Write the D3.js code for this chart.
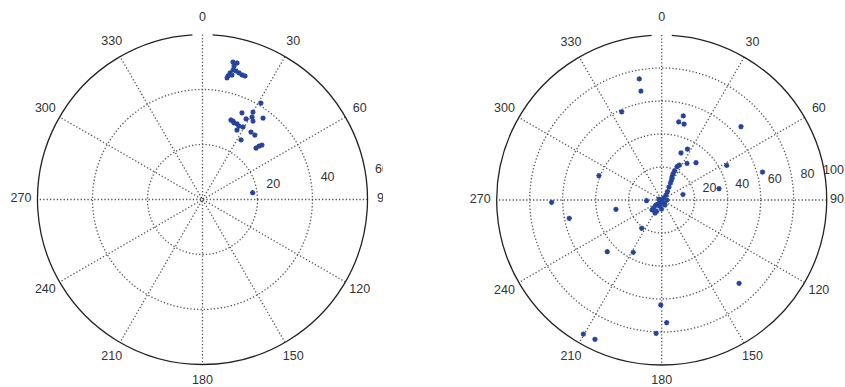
<!DOCTYPE html>
<html>
<head>
<meta charset="utf-8">
<title>Polar scatter</title>
<script src="https://cdn.jsdelivr.net/npm/d3@7"></script>
<style>
  body { margin: 0; background: #fff; }
  text { font-family: "Liberation Sans", Arial, sans-serif; font-size: 12.5px; fill: #333; }
  .grid { fill: none; stroke: #555; stroke-width: 1.3; stroke-dasharray: 1.3 2.1; }
  .rim { fill: none; stroke: #222; stroke-width: 1.3; }
  .pt { fill: none; stroke: #24439a; stroke-width: 1.4; }
</style>
</head>
<body>
<script>
// angle ticks (degrees clockwise from north)
var angleTicks = [0, 30, 60, 90, 120, 150, 180, 210, 240, 270, 300, 330];
var leftRings = [20, 40, 60];
var rightRings = [20, 40, 60, 80, 100];

// left panel: angle (deg) and radius
var leftTheta = [12.5, 14.2, 13.3, 13.3, 12.3, 11.7, 11.4, 14.6, 16.1, 17.6, 19.0, 13.3,
  31.2, 24.5, 30.0, 31.0, 36.6, 28.4, 21.2, 22.4, 24.6, 26.4, 29.2, 32.8, 26.4, 35.7,
  39.1, 32.9, 46.1, 46.6, 47.5, 19.7, 82.3];
var leftRadius = [51.2, 51.2, 49.9, 48.4, 47.1, 45.9, 45.1, 48.3, 47.9, 47.5, 47.5, 46.5,
  41.0, 34.6, 36.7, 35.0, 36.9, 33.3, 30.6, 30.1, 30.2, 29.8, 30.2, 33.9, 28.2, 30.2,
  30.2, 25.8, 27.0, 28.3, 29.3, 30.7, 18.4];

// right panel: angle (deg) and radius
var rightTheta = [349.5, 349.2, 335.6, 14.4, 12.3, 16.4, 47.2, 26.8, 22.3, 34.6, 42.6, 24.7,
  62.0, 74.5, 291.2, 78.8, 75.5, 268.8, 258.8, 258.5, 267.4, 215.2, 226.5, 208.5, 137.1,
  180.5, 177.7, 182.4, 210.3, 205.6, 26.7,
  23.5, 26.1, 27.4, 29.3, 34.3, 40.7, 42, 187.6, 222.4, 228.7, 225.7, 204.3, 181.3, 146.6,
  207.3, 224.1, 90, 195.8, 142.5, 290, 23.8, 24.1];
var rightRadius = [74.6, 67.2, 58.7, 52.6, 48.4, 48.0, 65.5, 34.6, 30.8, 27.0, 30.7, 22.2,
  44.6, 63.4, 40.8, 35.4, 13.3, 66.7, 57.1, 28.3, 9.2, 21.0, 45.5, 36.1, 68.9,
  63.6, 74.4, 80.9, 94.1, 93.6, 23.7,
  17.2, 13.5, 11.6, 9.0, 6.2, 4.0, 1.6, 0.9, 2.9, 4.6, 6.9, 7.6, 5.5, 3.6,
  8.9, 8.4, 3.2, 3.8, 2.3, 1.7, 19.2, 15.3];

var W = 845, H = 387;
var svg = d3.select('body').append('svg').attr('width', W).attr('height', H);

var asterisk = {
  draw: function(ctx, size) {
    var r = Math.sqrt(size) / 2, d = r * 0.7071;
    ctx.moveTo(-r, 0); ctx.lineTo(r, 0);
    ctx.moveTo(0, -r); ctx.lineTo(0, r);
    ctx.moveTo(-d, -d); ctx.lineTo(d, d);
    ctx.moveTo(-d, d); ctx.lineTo(d, -d);
  }
};

function polar(id, cx, cy, R, rings, theta, rho, clipW) {
  var rMax = rings[rings.length - 1];
  var rs = d3.scaleLinear().domain([0, rMax]).range([0, R]);
  var as = d3.scaleLinear().domain([0, 360]).range([0, 2 * Math.PI]);
  var px = function(t, r) { return cx + rs(r) * Math.sin(as(t)); };
  var py = function(t, r) { return cy - rs(r) * Math.cos(as(t)); };

  svg.append('clipPath').attr('id', id).append('rect')
    .attr('x', 0).attr('y', 0).attr('width', clipW).attr('height', H);
  var g = svg.append('g').attr('clip-path', 'url(#' + id + ')');

  // dotted rings (the last one is the solid rim)
  g.selectAll('circle.grid').data(rings.slice(0, -1)).enter().append('circle')
    .attr('class', 'grid').attr('cx', cx).attr('cy', cy).attr('r', function(d) { return rs(d); });

  // spokes through the centre
  g.selectAll('line.grid').data(angleTicks.slice(0, 6)).enter().append('line')
    .attr('class', 'grid')
    .attr('x1', function(d) { return px(d, rMax); }).attr('y1', function(d) { return py(d, rMax); })
    .attr('x2', function(d) { return px(d + 180, rMax); }).attr('y2', function(d) { return py(d + 180, rMax); });

  // solid rim with a small gap at the top
  var p = d3.path();
  p.arc(cx, cy, R, as(3.5) - Math.PI / 2, as(356.5) - Math.PI / 2);
  g.append('path').attr('class', 'rim').attr('d', p.toString());

  // angle labels
  g.selectAll('text.ang').data(angleTicks).enter().append('text')
    .attr('class', 'ang')
    .attr('x', function(d) { return px(d, rMax * 1.1); })
    .attr('y', function(d) { return py(d, rMax * 1.1) - 1.5; })
    .attr('text-anchor', 'middle').attr('dy', '0.35em')
    .text(function(d) { return d; });

  // ring labels, just above the 90 spoke
  var step = rings[0];
  g.selectAll('text.ring').data(rings).enter().append('text')
    .attr('class', 'ring')
    .attr('x', function(d) { return px(82, d + step / 20) + 6.5; })
    .attr('y', function(d) { return py(82, d + step / 20) - 3; })
    .text(function(d) { return d; });

  // keep labels inside the page edge
  g.selectAll('text').each(function() {
    var b = this.getBBox();
    if (b.x + b.width > W - 1) {
      var el = d3.select(this);
      el.attr('x', +el.attr('x') - (b.x + b.width - (W - 1)));
    }
  });

  // points
  g.selectAll('path.pt').data(theta).enter().append('path')
    .attr('class', 'pt')
    .attr('d', d3.symbol().type(asterisk).size(28))
    .attr('transform', function(d, i) {
      return 'translate(' + px(d, rho[i]) + ',' + py(d, rho[i]) + ')';
    });
}

polar('clipL', 202.5, 199.5, 165, leftRings, leftTheta, leftRadius, 383);
polar('clipR', 661.7, 200, 165, rightRings, rightTheta, rightRadius, W);
</script>
</body>
</html>
